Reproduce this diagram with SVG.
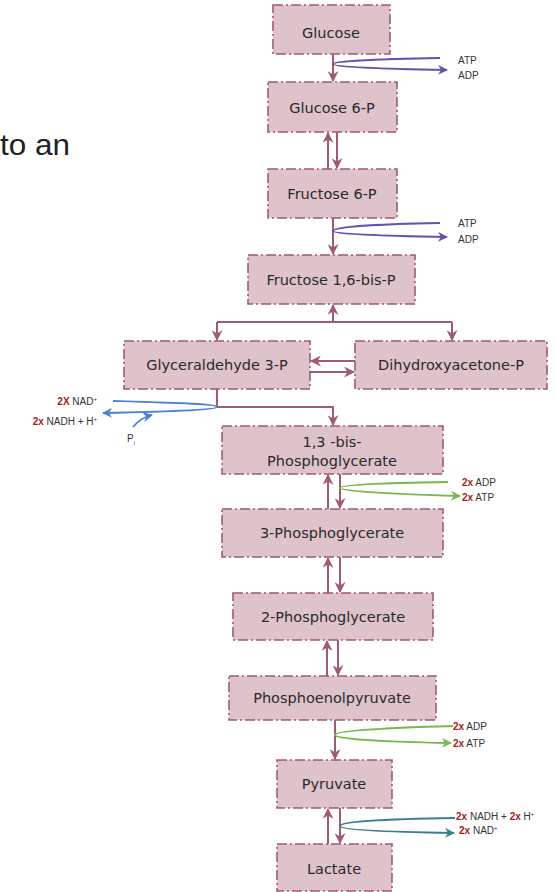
<svg xmlns="http://www.w3.org/2000/svg" width="557" height="892" viewBox="0 0 557 892">
<style>
.box{fill:#dfc3cb;stroke:#a05a72;stroke-width:1.6;stroke-dasharray:10 3 2 3}
.nt{font-family:"DejaVu Sans","Liberation Sans",sans-serif;font-size:14.5px;fill:#2a2a2a;text-anchor:middle}
.c{fill:none;stroke:#a05a72;stroke-width:2}
.pu{fill:none;stroke:#6650b0;stroke-width:1.8}
.bl{fill:none;stroke:#4a80d8;stroke-width:1.8}
.gr{fill:none;stroke:#78b84c;stroke-width:1.8}
.te{fill:none;stroke:#3c8090;stroke-width:1.8}
.lb{font-family:"Liberation Sans",Arial,sans-serif;font-size:10px;fill:#333}
.r{fill:#a42020;font-weight:bold}
.big{font-family:"Liberation Sans",Arial,sans-serif;font-size:30px;fill:#222}
</style>
<defs>
<marker id="am" viewBox="0 0 10 10" refX="9" refY="5" markerWidth="11" markerHeight="11" markerUnits="userSpaceOnUse" orient="auto"><path d="M0,0 L10,5 L0,10 L3,5 z" fill="#a05a72"/></marker>
<marker id="ap" viewBox="0 0 10 10" refX="9" refY="5" markerWidth="11" markerHeight="10" markerUnits="userSpaceOnUse" orient="auto"><path d="M0,0 L10,5 L0,10 L3,5 z" fill="#6650b0"/></marker>
<marker id="ab" viewBox="0 0 10 10" refX="9" refY="5" markerWidth="11" markerHeight="10" markerUnits="userSpaceOnUse" orient="auto"><path d="M0,0 L10,5 L0,10 L3,5 z" fill="#4a80d8"/></marker>
<marker id="ag" viewBox="0 0 10 10" refX="9" refY="5" markerWidth="11" markerHeight="10" markerUnits="userSpaceOnUse" orient="auto"><path d="M0,0 L10,5 L0,10 L3,5 z" fill="#78b84c"/></marker>
<marker id="at" viewBox="0 0 10 10" refX="9" refY="5" markerWidth="11" markerHeight="10" markerUnits="userSpaceOnUse" orient="auto"><path d="M0,0 L10,5 L0,10 L3,5 z" fill="#3c8090"/></marker>
</defs>
<rect width="557" height="892" fill="#fff"/>
<text class="big" x="0" y="155" textLength="70" lengthAdjust="spacingAndGlyphs">to an</text>

<g id="connectors">
<path class="c" d="M333,54 V81" marker-end="url(#am)"/>
<path class="c" d="M337,132 V168" marker-end="url(#am)"/>
<path class="c" d="M328,169 V133" marker-end="url(#am)"/>
<path class="c" d="M333,218 V254" marker-end="url(#am)"/>
<path class="c" d="M333,322 V305" marker-end="url(#am)"/>
<path class="c" d="M217,322 H452"/>
<path class="c" d="M217,322 V340" marker-end="url(#am)"/>
<path class="c" d="M452,322 V340" marker-end="url(#am)"/>
<path class="c" d="M355,361 H311" marker-end="url(#am)"/>
<path class="c" d="M310,372 H354" marker-end="url(#am)"/>
<path class="c" d="M217,389 V407 H333 V425" marker-end="url(#am)"/>
<path class="c" d="M328,509 V475" marker-end="url(#am)"/>
<path class="c" d="M340,474 V508" marker-end="url(#am)"/>
<path class="c" d="M328,593 V558" marker-end="url(#am)"/>
<path class="c" d="M340,557 V592" marker-end="url(#am)"/>
<path class="c" d="M327,676 V641" marker-end="url(#am)"/>
<path class="c" d="M338,640 V675" marker-end="url(#am)"/>
<path class="c" d="M335,720 V759" marker-end="url(#am)"/>
<path class="c" d="M328,844 V809" marker-end="url(#am)"/>
<path class="c" d="M340,808 V843" marker-end="url(#am)"/>
<path class="pu" d="M440,58 C380,59 333,61 333,64 C333,67 380,69 447,70" marker-end="url(#ap)"/>
<path class="pu" d="M440,223 C380,224 333,227 333,231 C333,234 380,236 447,237" marker-end="url(#ap)"/>
<path class="bl" d="M113,401 C180,403 217,404 217,407 C217,410 160,412 103,413" marker-end="url(#ab)"/>
<path class="bl" d="M133,427 Q140,418 152,415" marker-end="url(#ab)"/>
<path class="gr" d="M448,482 C380,483 340,485 340,488 C340,491 390,494 460,496" marker-end="url(#ag)"/>
<path class="gr" d="M453,726 C380,728 335,731 335,735 C335,739 390,742 451,743" marker-end="url(#ag)"/>
<path class="te" d="M455,818 C380,819 340,822 340,826 C340,830 390,832 454,833" marker-end="url(#at)"/>
</g>

<g id="glucose"><rect class="box" x="273" y="5" width="117" height="49"/><text class="nt" x="331" y="38">Glucose</text></g>
<g id="glucose6p"><rect class="box" x="268" y="82" width="129" height="50"/><text class="nt" x="332" y="113">Glucose 6-P</text></g>
<g id="fructose6p"><rect class="box" x="268" y="169" width="129" height="49"/><text class="nt" x="332" y="199">Fructose 6-P</text></g>
<g id="fructose16bp"><rect class="box" x="248" y="255" width="167" height="49"/><text class="nt" x="331" y="285">Fructose 1,6-bis-P</text></g>
<g id="g3p"><rect class="box" x="124" y="341" width="186" height="48"/><text class="nt" x="217" y="370">Glyceraldehyde 3-P</text></g>
<g id="dhap"><rect class="box" x="355" y="341" width="192" height="48"/><text class="nt" x="451" y="370">Dihydroxyacetone-P</text></g>
<g id="bpg13"><rect class="box" x="222" y="426" width="221" height="48"/><text class="nt" x="332" y="447">1,3 -bis-</text><text class="nt" x="332" y="466">Phosphoglycerate</text></g>
<g id="pg3"><rect class="box" x="222" y="509" width="221" height="48"/><text class="nt" x="332" y="538">3-Phosphoglycerate</text></g>
<g id="pg2"><rect class="box" x="233" y="593" width="200" height="47"/><text class="nt" x="333" y="622">2-Phosphoglycerate</text></g>
<g id="pep"><rect class="box" x="229" y="676" width="207" height="44"/><text class="nt" x="332" y="703">Phosphoenolpyruvate</text></g>
<g id="pyruvate"><rect class="box" x="277" y="760" width="115" height="48"/><text class="nt" x="334" y="789">Pyruvate</text></g>
<g id="lactate"><rect class="box" x="277" y="844" width="115" height="47"/><text class="nt" x="334" y="874">Lactate</text></g>

<g id="labels">
<text class="lb" x="458" y="64">ATP</text>
<text class="lb" x="458" y="79">ADP</text>
<text class="lb" x="458" y="227">ATP</text>
<text class="lb" x="458" y="243">ADP</text>
<text class="lb" x="97" y="405" text-anchor="end"><tspan class="r">2X</tspan> NAD<tspan font-size="6" dy="-4">+</tspan></text>
<text class="lb" x="97" y="425" text-anchor="end"><tspan class="r">2x</tspan> NADH + H<tspan font-size="6" dy="-4">+</tspan></text>
<text class="lb" x="127" y="442">P<tspan font-size="6" dy="3">i</tspan></text>
<text class="lb" x="462" y="486"><tspan class="r">2x</tspan> ADP</text>
<text class="lb" x="462" y="501"><tspan class="r">2x</tspan> ATP</text>
<text class="lb" x="453" y="730"><tspan class="r">2x</tspan> ADP</text>
<text class="lb" x="453" y="747"><tspan class="r">2x</tspan> ATP</text>
<text class="lb" x="456" y="820"><tspan class="r">2x</tspan> NADH + <tspan class="r">2x</tspan> H<tspan font-size="6" dy="-4">+</tspan></text>
<text class="lb" x="459" y="834"><tspan class="r">2x</tspan> NAD<tspan font-size="6" dy="-4">+</tspan></text>
</g>
</svg>
